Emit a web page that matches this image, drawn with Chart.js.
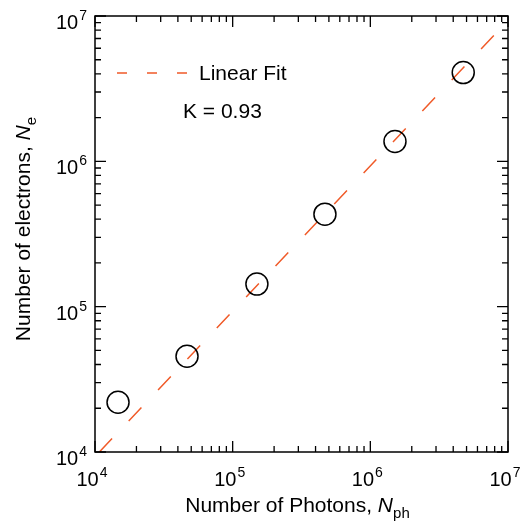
<!DOCTYPE html>
<html>
<head>
<meta charset="utf-8">
<script src="https://cdn.jsdelivr.net/npm/chart.js@4.4.1/dist/chart.umd.min.js"></script>
<style>
  html, body { margin: 0; padding: 0; background: #ffffff; }
  #wrap { width: 522px; height: 521px; }
</style>
</head>
<body>
<div id="wrap"><canvas id="c" width="522" height="521"></canvas></div>
<script>
// Measured photon / electron counts
const photons   = [1.47e4, 4.66e4, 1.50e5, 4.68e5, 1.51e6, 4.73e6];
const electrons = [2.20e4, 4.56e4, 1.43e5, 4.33e5, 1.37e6, 4.08e6];

// Linear fit  N_e = K * N_ph
const K = 0.93;
const fitPhotons = [1.0753e4, 7.9e6];

// Axis decades (exponents of ten) and minor tick multipliers
const decadeExps = [4, 5, 6, 7];
const minorSteps = [2, 3, 4, 5, 6, 7, 8, 9];

const FONT = '"Liberation Sans", Arial, Helvetica, sans-serif';
const FIT_COLOR = '#f05a28';

function drawPow(ctx, exp, x, y, align) {
  // "10" with a superscript exponent; y is the baseline of "10"
  ctx.font = '20px ' + FONT;
  const wBase = ctx.measureText('10').width;
  ctx.font = '14px ' + FONT;
  const wExp = ctx.measureText(String(exp)).width;
  const total = wBase + wExp + 1;
  let x0 = x;
  if (align === 'center') x0 = x - total / 2;
  else if (align === 'right') x0 = x - total;
  ctx.textAlign = 'left';
  ctx.textBaseline = 'alphabetic';
  ctx.fillStyle = '#000';
  ctx.font = '20px ' + FONT;
  ctx.fillText('10', x0, y);
  ctx.font = '14px ' + FONT;
  ctx.fillText(String(exp), x0 + wBase + 1, y - 9);
}

function drawRich(ctx, parts, x, y, align) {
  // parts: [{t, font, dy}]
  let total = 0;
  parts.forEach(p => { ctx.font = p.font; p.w = ctx.measureText(p.t).width; total += p.w; });
  let cx = align === 'center' ? x - total / 2 : x;
  ctx.textAlign = 'left';
  ctx.textBaseline = 'alphabetic';
  ctx.fillStyle = '#000';
  parts.forEach(p => { ctx.font = p.font; ctx.fillText(p.t, cx, y + (p.dy || 0)); cx += p.w; });
}

const frame = {
  id: 'frame',
  afterDraw(chart) {
    const { ctx, chartArea: a, scales } = chart;
    const xs = scales.x, ys = scales.y;
    ctx.save();

    // plot frame
    ctx.strokeStyle = '#000';
    ctx.lineWidth = 1.5;
    ctx.strokeRect(a.left, a.top, a.right - a.left, a.bottom - a.top);

    // inward ticks on all four sides
    const ticks = [];
    decadeExps.forEach(e => {
      ticks.push({ v: Math.pow(10, e), major: true });
      if (e < decadeExps[decadeExps.length - 1]) {
        minorSteps.forEach(m => ticks.push({ v: m * Math.pow(10, e), major: false }));
      }
    });
    ctx.lineWidth = 1.3;
    ctx.beginPath();
    ticks.forEach(t => {
      const len = t.major ? 11 : 6;
      const px = xs.getPixelForValue(t.v);
      ctx.moveTo(px, a.bottom); ctx.lineTo(px, a.bottom - len);
      ctx.moveTo(px, a.top); ctx.lineTo(px, a.top + len);
      const py = ys.getPixelForValue(t.v);
      ctx.moveTo(a.left, py); ctx.lineTo(a.left + len, py);
      ctx.moveTo(a.right, py); ctx.lineTo(a.right - len, py);
    });
    ctx.stroke();

    // tick labels
    decadeExps.forEach(e => {
      const v = Math.pow(10, e);
      drawPow(ctx, e, xs.getPixelForValue(v) - 3, a.bottom + 34, 'center');
      drawPow(ctx, e, a.left - 8, ys.getPixelForValue(v) + 13, 'right');
    });

    // axis titles
    const f = '21px ' + FONT, fi = 'italic 21px ' + FONT, fs = '15px ' + FONT;
    drawRich(ctx, [
      { t: 'Number of Photons, ', font: f },
      { t: 'N', font: fi },
      { t: 'ph', font: fs, dy: 6 }
    ], (a.left + a.right) / 2 - 4, 512, 'center');

    ctx.save();
    ctx.translate(30, (a.top + a.bottom) / 2 - 5);
    ctx.rotate(-Math.PI / 2);
    drawRich(ctx, [
      { t: 'Number of electrons, ', font: f },
      { t: 'N', font: fi },
      { t: 'e', font: fs, dy: 6 }
    ], 0, 0, 'center');
    ctx.restore();

    // legend entry and fit parameter
    ctx.strokeStyle = FIT_COLOR;
    ctx.lineWidth = 1.5;
    ctx.setLineDash([10, 20]);
    ctx.beginPath();
    ctx.moveTo(117, 73); ctx.lineTo(188, 73);
    ctx.stroke();
    ctx.setLineDash([]);
    ctx.fillStyle = '#000';
    ctx.font = '21px ' + FONT;
    ctx.textAlign = 'left';
    ctx.textBaseline = 'middle';
    ctx.fillText('Linear Fit', 199, 74);
    ctx.fillText('K = ' + K.toFixed(2), 183, 112);

    ctx.restore();
  }
};

new Chart(document.getElementById('c'), {
  type: 'scatter',
  data: {
    datasets: [
      {
        label: 'Data',
        data: photons.map((x, i) => ({ x, y: electrons[i] })),
        pointStyle: 'circle',
        pointRadius: 11,
        pointHoverRadius: 11,
        borderColor: '#000',
        backgroundColor: 'rgba(0,0,0,0)',
        borderWidth: 1.5,
        showLine: false,
        order: 1
      },
      {
        label: 'Linear Fit',
        data: fitPhotons.map(x => ({ x, y: K * x })),
        showLine: true,
        borderColor: FIT_COLOR,
        borderWidth: 1.5,
        borderDash: [18.5, 24.2],
        pointRadius: 0,
        fill: false,
        order: 2
      }
    ]
  },
  options: {
    responsive: false,
    animation: false,
    devicePixelRatio: 1,
    layout: { padding: { left: 95, right: 14, top: 16, bottom: 69 } },
    plugins: { legend: { display: false }, tooltip: { enabled: false } },
    scales: {
      x: { type: 'logarithmic', min: 1e4, max: 1e7, display: false },
      y: { type: 'logarithmic', min: 1e4, max: 1e7, display: false }
    }
  },
  plugins: [frame]
});
</script>
</body>
</html>
